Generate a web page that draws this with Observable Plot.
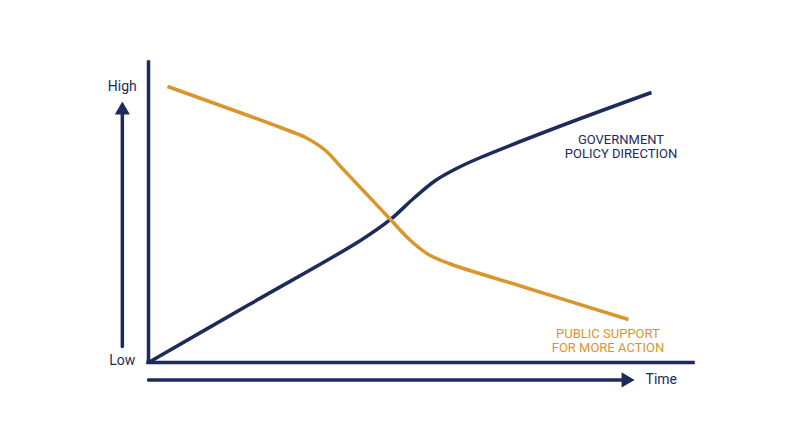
<!DOCTYPE html>
<html>
<head>
<meta charset="utf-8">
<script src="https://cdn.jsdelivr.net/npm/d3@7"></script>
<script src="https://cdn.jsdelivr.net/npm/@observablehq/plot@0.6"></script>
<style>
  html, body { margin: 0; padding: 0; background: #ffffff; }
  #chart svg { display: block; }
</style>
</head>
<body>
<div id="chart"></div>
<script>
// Series: abstract time (0-100) vs level (0-100)
const govTime   = [0, 18.72, 38.90, 44.40, 48.62, 52.66, 56.70, 60.92, 75.60, 92.29];
const govLevel  = [0, 19.57, 40.67, 47.67, 54.67, 60.67, 64.83, 68.33, 78.83, 90.0];
const pubTime   = [3.49, 24.22, 28.81, 32.48, 35.23, 39.82, 44.40, 48.07, 51.38, 55.41, 68.26, 88.07];
const pubLevel  = [92.0, 78.33, 75.0, 70.67, 65.33, 56.5, 47.67, 40.67, 36.0, 32.83, 25.5, 14.33];

// Text labels
const seriesLabels = ["GOVERNMENT\nPOLICY DIRECTION", "PUBLIC SUPPORT\nFOR MORE ACTION"];
const labelTime  = [86.7, 84.3];
const labelLevel = [71.9, 7.2];
const axisWords  = ["High", "Low", "Time"];
const axisWordTime  = [-4.8, -4.8, 91.2];
const axisWordLevel = [92.0, 0.7, -5.8];

// Axis arrows (in data units)
const yArrowTime = -4.8;
const yArrowLevels = [5.3, 83.0];
const xArrowLevel = -5.8;
const xArrowTimes = [0, 87.2];
const yArrowHead = [-4.8, 84.1];
const xArrowHead = [87.6, -5.8];

const navy = "#1d2b58";
const orange = "#d9962c";

const gov = govTime.map((t, i) => ({t, v: govLevel[i]}));
const pub = pubTime.map((t, i) => ({t, v: pubLevel[i]}));

const chart = Plot.plot({
  width: 800,
  height: 447,
  marginLeft: 148,
  marginRight: 107,
  marginTop: 62,
  marginBottom: 85,
  x: {domain: [0, 100], axis: null},
  y: {domain: [0, 100], axis: null},
  style: {fontFamily: "Roboto", background: "#ffffff"},
  marks: [
    // frame axes
    Plot.ruleX([0], {stroke: navy, strokeWidth: 3.5, strokeLinecap: "square"}),
    Plot.ruleY([0], {stroke: navy, strokeWidth: 3.5, strokeLinecap: "square"}),
    // arrows
    Plot.line(yArrowLevels.map(v => ({t: yArrowTime, v})), {x: "t", y: "v", stroke: navy, strokeWidth: 3.5, clip: false}),
    Plot.line(xArrowTimes.map(t => ({t, v: xArrowLevel})), {x: "t", y: "v", stroke: navy, strokeWidth: 3.5, clip: false}),
    Plot.dot([{t: yArrowHead[0], v: yArrowHead[1]}], {x: "t", y: "v", symbol: "triangle", r: 5.6, fill: navy, stroke: null}),
    Plot.dot([{t: xArrowHead[0], v: xArrowHead[1]}], {x: "t", y: "v", symbol: "triangle", r: 5.6, fill: navy, stroke: null, rotate: 90}),
    // series
    Plot.line(gov, {x: "t", y: "v", stroke: navy, strokeWidth: 3.5, curve: "catmull-rom", strokeLinecap: "butt"}),
    Plot.line(pub, {x: "t", y: "v", stroke: orange, strokeWidth: 3.5, curve: "catmull-rom", strokeLinecap: "butt"}),
    // series labels
    Plot.text([0], {x: labelTime[0], y: labelLevel[0], text: () => seriesLabels[0], fill: navy, fontSize: 13, lineHeight: 1.05, textAnchor: "middle", lineAnchor: "middle"}),
    Plot.text([0], {x: labelTime[1], y: labelLevel[1], text: () => seriesLabels[1], fill: orange, fontSize: 13, lineHeight: 1.05, textAnchor: "middle", lineAnchor: "middle"}),
    // axis words
    Plot.text(axisWords.slice(0, 2), {x: (d, i) => axisWordTime[i], y: (d, i) => axisWordLevel[i], text: d => d, fill: navy, fontSize: 14, textAnchor: "middle", lineAnchor: "middle"}),
    Plot.text([axisWords[2]], {x: axisWordTime[2], y: axisWordLevel[2], text: d => d, fill: navy, fontSize: 14, textAnchor: "start", lineAnchor: "middle"})
  ]
});
document.getElementById("chart").appendChild(chart);
</script>
</body>
</html>
